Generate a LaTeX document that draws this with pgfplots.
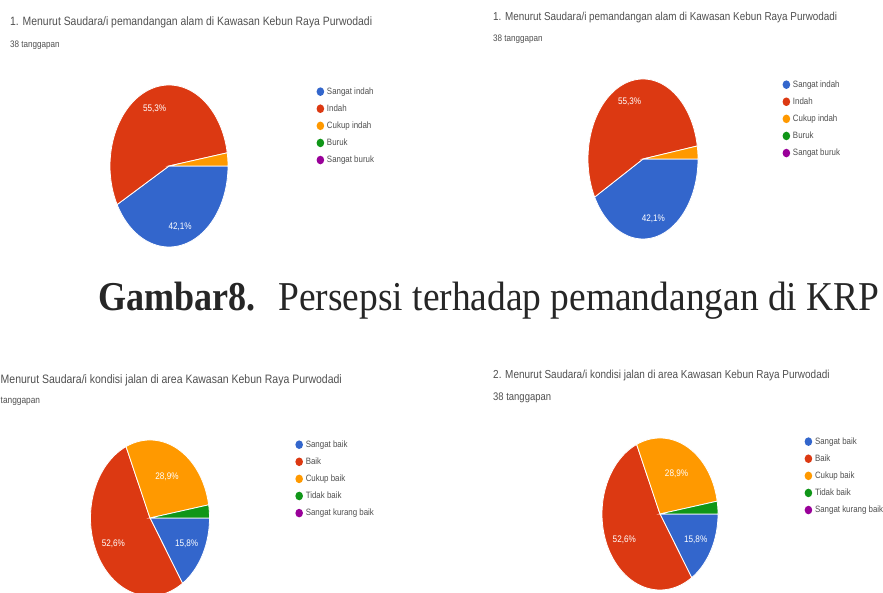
\documentclass[border=0pt]{standalone}
\usepackage{pgfplots}
\pgfplotsset{compat=1.18}
\usepackage{fontspec}
\setmainfont{Liberation Serif}
\newfontfamily\gf[FakeStretch=0.86]{Liberation Sans}
\newfontfamily\capfont[FakeStretch=0.913]{Liberation Serif}
\newfontfamily\capb[FakeStretch=0.88]{Liberation Serif}
\definecolor{gblue}{HTML}{3366CC}
\definecolor{gred}{HTML}{DC3912}
\definecolor{gorange}{HTML}{FF9900}
\definecolor{ggreen}{HTML}{109618}
\definecolor{gpurple}{HTML}{990099}
\definecolor{gtext}{HTML}{505050}

% one slice: start (cumulative %), share (%), colour; drawn clockwise from 3 o'clock
\newcommand\slice[3]{%
  \pgfmathsetmacro\sa{-3.6*(#1+#2)}%
  \pgfmathsetmacro\sb{-3.6*(#1)}%
  \edef\doslice{\noexpand\addplot[fill=#3, draw=white, line width=0.8pt, domain=\sa:\sb, samples=80] ({cos(x)},{sin(x)}) -- (axis cs:0,0) -- cycle;}%
  \doslice
}

\pgfplotsset{
  pieaxis/.style={scale only axis, xmin=-1, xmax=1, ymin=-1, ymax=1, hide axis, clip=false, anchor=center,
    legend image code/.code={\fill[##1, draw=none] (3.8pt,0pt) ellipse (3.8pt and 4.3pt); \path (10pt,0pt);},
    legend cell align=left,
    legend style={draw=none, fill=none, font=\gf\fontsize{9.2}{10}\selectfont, text=gtext, anchor=north west,
      inner sep=0pt, row sep=8.1pt,
      nodes={inner sep=0pt, text height=7pt, text depth=2pt}},
  },
}
\tikzset{plabel/.style={font=\gf\fontsize{9.5}{10}\selectfont, text=white},
  ttl/.style={anchor=base west, inner sep=0pt, text=gtext}}

\begin{document}
\begin{tikzpicture}[x=1pt, y=1pt]
\path[use as bounding box, clip] (0,0) rectangle (883,593);
\fill[white] (0,0) rectangle (883,593);

% ---------- top left ----------
\node[ttl, font=\gf\fontsize{12.1}{13}\selectfont] at (10,567) {1. Menurut Saudara/i pemandangan alam di Kawasan Kebun Raya Purwodadi};
\node[ttl, font=\gf\fontsize{9.4}{10}\selectfont] at (10,545) {38 tanggapan};
\begin{axis}[pieaxis, at={(169pt,427pt)}, width=118pt, height=162pt, legend style={at={(1.749,0.988)}}]
\slice{0}{42.1}{gblue}\addlegendentry{Sangat indah}
\slice{42.1}{55.3}{gred}\addlegendentry{Indah}
\slice{97.4}{2.6}{gorange}\addlegendentry{Cukup indah}
\addlegendimage{fill=ggreen}\addlegendentry{Buruk}
\addlegendimage{fill=gpurple}\addlegendentry{Sangat buruk}
\node[plabel] at (axis cs:{0.75*cos(108.9)},{0.75*sin(108.9)}) {55,3\%};
\node[plabel] at (axis cs:{0.77*cos(-75.8)},{0.77*sin(-75.8)}) {42,1\%};
\end{axis}

% ---------- top right ----------
\node[ttl, font=\gf\fontsize{11.5}{12}\selectfont] at (493,572) {1. Menurut Saudara/i pemandangan alam di Kawasan Kebun Raya Purwodadi};
\node[ttl, font=\gf\fontsize{9.4}{10}\selectfont] at (493,551) {38 tanggapan};
\begin{axis}[pieaxis, at={(643pt,434pt)}, width=110pt, height=160pt, legend style={at={(1.767,0.994)}}]
\slice{0}{42.1}{gblue}\addlegendentry{Sangat indah}
\slice{42.1}{55.3}{gred}\addlegendentry{Indah}
\slice{97.4}{2.6}{gorange}\addlegendentry{Cukup indah}
\addlegendimage{fill=ggreen}\addlegendentry{Buruk}
\addlegendimage{fill=gpurple}\addlegendentry{Sangat buruk}
\node[plabel] at (axis cs:{0.75*cos(108.9)},{0.75*sin(108.9)}) {55,3\%};
\node[plabel] at (axis cs:{0.77*cos(-75.8)},{0.77*sin(-75.8)}) {42,1\%};
\end{axis}

% ---------- caption ----------
\node[anchor=base west, inner sep=0pt, text=black!85] at (98,282) {{\capb\bfseries\fontsize{41}{44}\selectfont Gambar8.}\hspace{23pt}{\capfont\fontsize{41}{44}\selectfont Persepsi terhadap pemandangan di KRP}};

% ---------- bottom left ----------
\node[ttl, font=\gf\fontsize{12.2}{13}\selectfont] at (0.5,209) {Menurut Saudara/i kondisi jalan di area Kawasan Kebun Raya Purwodadi};
\node[ttl, font=\gf\fontsize{9.7}{10}\selectfont] at (0.5,189) {tanggapan};
\begin{axis}[pieaxis, at={(150pt,75pt)}, width=119pt, height=156pt, legend style={at={(1.72,1.0)}}]
\slice{0}{15.8}{gblue}\addlegendentry{Sangat baik}
\slice{15.8}{52.6}{gred}\addlegendentry{Baik}
\slice{68.4}{28.9}{gorange}\addlegendentry{Cukup baik}
\slice{97.3}{2.7}{ggreen}\addlegendentry{Tidak baik}
\addlegendimage{fill=gpurple}\addlegendentry{Sangat kurang baik}
\node[plabel] at (axis cs:{0.7*cos(-151.6)},{0.7*sin(-151.6)}) {52,6\%};
\node[plabel] at (axis cs:{0.7*cos(-28.4)},{0.7*sin(-28.4)}) {15,8\%};
\node[plabel] at (axis cs:{0.6*cos(61.6)},{0.6*sin(61.6)}) {28,9\%};
\end{axis}

% ---------- bottom right ----------
\node[ttl, font=\gf\fontsize{11.6}{12}\selectfont] at (493,214) {2. Menurut Saudara/i kondisi jalan di area Kawasan Kebun Raya Purwodadi};
\node[ttl, font=\gf\fontsize{11}{12}\selectfont] at (493,192) {38 tanggapan};
\begin{axis}[pieaxis, at={(660pt,79pt)}, width=116pt, height=152pt, legend style={at={(1.745,1.007)}}]
\slice{0}{15.8}{gblue}\addlegendentry{Sangat baik}
\slice{15.8}{52.6}{gred}\addlegendentry{Baik}
\slice{68.4}{28.9}{gorange}\addlegendentry{Cukup baik}
\slice{97.3}{2.7}{ggreen}\addlegendentry{Tidak baik}
\addlegendimage{fill=gpurple}\addlegendentry{Sangat kurang baik}
\node[plabel] at (axis cs:{0.7*cos(-151.6)},{0.7*sin(-151.6)}) {52,6\%};
\node[plabel] at (axis cs:{0.7*cos(-28.4)},{0.7*sin(-28.4)}) {15,8\%};
\node[plabel] at (axis cs:{0.6*cos(61.6)},{0.6*sin(61.6)}) {28,9\%};
\end{axis}
\end{tikzpicture}
\end{document}
